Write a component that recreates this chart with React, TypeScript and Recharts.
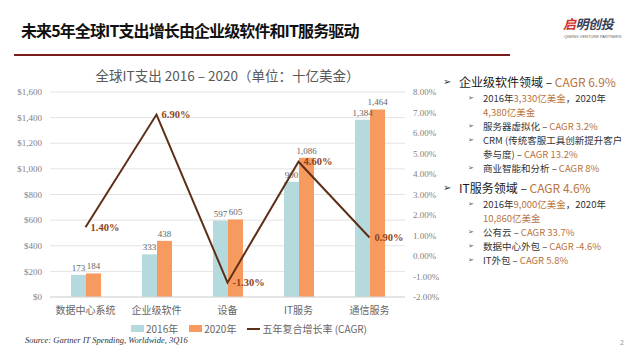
import { ComposedChart, Bar, Line, XAxis, YAxis, CartesianGrid, LabelList } from 'recharts';

const categories = ['数据中心系统', '企业级软件', '设备', 'IT服务', '通信服务'];
const spend2016 = [173, 333, 597, 900, 1384];
const spend2020 = [184, 438, 605, 1086, 1464];
const cagr = [1.4, 6.9, -1.3, 4.6, 0.9];
const leftTicks = [0, 200, 400, 600, 800, 1000, 1200, 1400, 1600];
const rightTicks = [-2, -1, 0, 1, 2, 3, 4, 5, 6, 7, 8];
const seriesNames = ['2016年', '2020年', '五年复合增长率 (CAGR)'];

// right-hand notes: [text, highlighted?] pieces per line
const block1Head = [['企业级软件领域 – ', false], ['CAGR 6.9%', true]] as const;
const block1Lines = [
  { bullet: true, parts: [['2016年', false], ['3,330亿美金', true], ['，2020年', false]] },
  { bullet: false, parts: [['4,380亿美金', true]] },
  { bullet: true, parts: [['服务器虚拟化 – ', false], ['CAGR 3.2%', true]] },
  { bullet: true, parts: [['CRM (传统客服工具创新提升客户', false]] },
  { bullet: false, parts: [['参与度) – ', false], ['CAGR 13.2%', true]] },
  { bullet: true, parts: [['商业智能和分析 – ', false], ['CAGR 8%', true]] },
];
const block2Head = [['IT服务领域 – ', false], ['CAGR 4.6%', true]] as const;
const block2Lines = [
  { bullet: true, parts: [['2016年', false], ['9,000亿美金', true], ['，2020年', false]] },
  { bullet: false, parts: [['10,860亿美金', true]] },
  { bullet: true, parts: [['公有云 – ', false], ['CAGR 33.7%', true]] },
  { bullet: true, parts: [['数据中心外包 – ', false], ['CAGR -4.6%', true]] },
  { bullet: true, parts: [['IT外包 – ', false], ['CAGR 5.8%', true]] },
];

const data = categories.map((name, i) => ({
  name,
  y2016: spend2016[i],
  y2020: spend2020[i],
  cagr: cagr[i],
}));

const C16 = '#b4dadd';
const C20 = '#f79a60';
const CLINE = '#5e2f17';
const ACCENT = '#b9733e';
const CJK = '"Noto Sans CJK SC", "Noto Sans", sans-serif';
const SERIF = '"Liberation Serif", serif';

function Parts({ parts }: { parts: readonly (readonly [string, boolean])[] }) {
  return (
    <>
      {parts.map(([t, hi], i) => (
        <span key={i} style={{ color: hi ? ACCENT : undefined }}>{t}</span>
      ))}
    </>
  );
}

function Block({ top, head, lines }: { top: number; head: any; lines: any[] }) {
  return (
    <div style={{ position: 'absolute', left: 443, top, width: 195 }}>
      <div style={{ display: 'flex', alignItems: 'center', height: 17.5, fontSize: 12, color: '#1a1a1a', whiteSpace: 'nowrap' }}>
        <span style={{ width: 16, fontSize: 10, color: '#333', fontFamily: '"DejaVu Sans"' }}>➢</span>
        <span><Parts parts={head} /></span>
      </div>
      {lines.map((l, i) => (
        <div key={i} style={{ display: 'flex', alignItems: 'center', height: 14, fontSize: 9.5, color: '#333', paddingLeft: 25, whiteSpace: 'nowrap' }}>
          <span style={{ width: 15, fontSize: 7, color: '#555', fontFamily: '"DejaVu Sans"', visibility: l.bullet ? 'visible' : 'hidden' }}>➢</span>
          <span><Parts parts={l.parts} /></span>
        </div>
      ))}
    </div>
  );
}

export default function App() {
  return (
    <div style={{ position: 'absolute', left: 0, top: 0, width: 640, height: 360, background: '#fff', overflow: 'hidden', fontFamily: CJK }}>
      <div style={{ position: 'absolute', left: 21, top: 18, fontSize: 16, fontWeight: 700, letterSpacing: -0.9, color: '#111', whiteSpace: 'nowrap' }}>
        未来5年全球IT支出增长由企业级软件和IT服务驱动
      </div>
      <div style={{ position: 'absolute', left: 14, top: 54, width: 496, height: 2, background: '#7a1c1c' }} />
      <div style={{ position: 'absolute', left: 563, top: 14, fontSize: 13, fontWeight: 700, fontStyle: 'italic', letterSpacing: -0.5, whiteSpace: 'nowrap' }}>
        <span style={{ color: '#d0342c' }}>启</span>
        <span style={{ color: '#3a3f58' }}>明创投</span>
      </div>
      <div style={{ position: 'absolute', left: 564, top: 34, fontSize: 4, color: '#666', fontFamily: '"Liberation Sans"', whiteSpace: 'nowrap' }}>
        QIMING VENTURE PARTNERS
      </div>

      <div style={{ position: 'absolute', left: 50, width: 355, top: 65, textAlign: 'center', fontSize: 13.5, color: '#595959', whiteSpace: 'nowrap' }}>
        全球IT支出 2016 – 2020（单位：十亿美金）
      </div>

      <div style={{ position: 'absolute', left: 0, top: 60 }}>
        <ComposedChart width={450} height={270} data={data} margin={{ top: 32, right: 0, left: 2, bottom: 0 }} barGap={0} barSize={15}>
          <CartesianGrid yAxisId="left" vertical={false} stroke="#e3e3e3" />
          <XAxis dataKey="name" height={33} axisLine={{ stroke: '#d9d9d9' }} tickLine={false} tickMargin={4} interval={0}
            tick={{ fill: '#666', fontSize: 10, fontFamily: CJK }} />
          <YAxis yAxisId="left" width={48} domain={[0, 1600]} ticks={leftTicks} axisLine={false} tickLine={false}
            tickFormatter={(v: number) => '$' + v.toLocaleString('en-US')}
            tick={{ fill: '#7f7f7f', fontSize: 9, fontFamily: SERIF }} />
          <YAxis yAxisId="right" orientation="right" width={45} domain={[-2, 8]} ticks={rightTicks} axisLine={false} tickLine={false}
            tickFormatter={(v: number) => v.toFixed(2) + '%'}
            tick={{ fill: '#7f7f7f', fontSize: 9, fontFamily: SERIF }} />
          <Bar yAxisId="left" dataKey="y2016" name={seriesNames[0]} fill={C16} isAnimationActive={false}>
            <LabelList dataKey="y2016" position="top" offset={4} formatter={(v: any) => Number(v).toLocaleString('en-US')}
              style={{ fill: '#666', fontSize: 9, fontFamily: SERIF }} />
          </Bar>
          <Bar yAxisId="left" dataKey="y2020" name={seriesNames[1]} fill={C20} isAnimationActive={false}>
            <LabelList dataKey="y2020" position="top" offset={4} formatter={(v: any) => Number(v).toLocaleString('en-US')}
              style={{ fill: '#666', fontSize: 9, fontFamily: SERIF }} />
          </Bar>
          <Line yAxisId="right" dataKey="cagr" name={seriesNames[2]} stroke={CLINE} strokeWidth={2} dot={false} isAnimationActive={false}>
            <LabelList dataKey="cagr" position="right" offset={5} formatter={(v: any) => Number(v).toFixed(2) + '%'}
              style={{ fill: '#8e4519', fontSize: 10.5, fontWeight: 700, fontFamily: SERIF }} />
          </Line>
        </ComposedChart>
      </div>

      <div style={{ position: 'absolute', left: 131, top: 321, display: 'flex', alignItems: 'center', fontSize: 10, color: '#666', whiteSpace: 'nowrap' }}>
        <span style={{ width: 13, height: 7, background: C16, marginRight: 2 }} />
        <span style={{ marginRight: 11 }}>{seriesNames[0]}</span>
        <span style={{ width: 13, height: 7, background: C20, marginRight: 2 }} />
        <span style={{ marginRight: 11 }}>{seriesNames[1]}</span>
        <span style={{ width: 13, height: 2, background: CLINE, marginRight: 2 }} />
        <span>{seriesNames[2]}</span>
      </div>

      <div style={{ position: 'absolute', left: 25, top: 335, fontSize: 8.5, fontStyle: 'italic', color: '#333', fontFamily: SERIF }}>
        Source: Gartner IT Spending, Worldwide, 3Q16
      </div>

      <Block top={73} head={block1Head} lines={block1Lines} />
      <Block top={179} head={block2Head} lines={block2Lines} />

      <div style={{ position: 'absolute', left: 620, top: 337, fontSize: 7, color: '#999' }}>2</div>
    </div>
  );
}
